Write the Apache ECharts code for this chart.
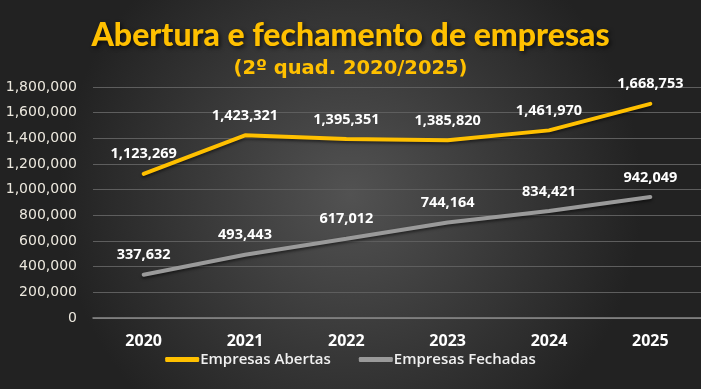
<!DOCTYPE html>
<html><head><meta charset="utf-8">
<script src="https://cdn.jsdelivr.net/npm/echarts@6/dist/echarts.min.js"></script>
<style>html,body{margin:0;padding:0;background:#2a2a2a}#c{width:701px;height:389px}</style>
</head><body><div id="c"></div>
<script>
const categories = ['2020','2021','2022','2023','2024','2025'];
const abertas = [1123269, 1423321, 1395351, 1385820, 1461970, 1668753];
const fechadas = [337632, 493443, 617012, 744164, 834421, 942049];
const seriesNames = ['Empresas Abertas','Empresas Fechadas'];
const titleText = 'Abertura e fechamento de empresas';
const subtitleText = '(2º quad. 2020/2025)';

const chart = echarts.init(document.getElementById('c'));
const fmt = v => v.toLocaleString('en-US');
const lbl = {show:true, position:'top', distance:11, color:'#ffffff', fontWeight:'bold', fontSize:14.5, fontFamily:'Open Sans',
  formatter: p => fmt(p.value)};
chart.setOption({
  backgroundColor: {type:'radial', x:0.5, y:0.5, r:0.75,
    colorStops:[{offset:0,color:'#525252'},{offset:1,color:'#222222'}]},
  title: [
    {text:titleText, left:'center', top:15, textStyle:{color:'#FFC000', fontSize:32, fontWeight:900, fontFamily:'Lato',
      textShadowColor:'rgba(0,0,0,0.6)', textShadowBlur:4, textShadowOffsetX:2, textShadowOffsetY:2}},
    {text:subtitleText, left:'center', top:54, textStyle:{color:'#FFC000', fontSize:19.5, fontWeight:'bold', fontFamily:'DejaVu Sans'}}
  ],
  legend: {data:seriesNames, bottom:17, left:'center', itemWidth:34, itemHeight:5, itemGap:28,
    icon:'roundRect',
    textStyle:{color:'#f0f0f0', fontSize:15, fontWeight:600, fontFamily:'Open Sans', padding:[0,0,0,-4]}},
  grid: {left:93, right:0, top:87, bottom:71},
  xAxis: {type:'category', data:categories, boundaryGap:true,
    axisLine:{lineStyle:{color:'#8a8a8a', width:1.5}}, axisTick:{show:false},
    axisLabel:{color:'#ffffff', fontWeight:'bold', fontSize:16, fontFamily:'Open Sans', margin:15}},
  yAxis: {type:'value', min:0, max:1800000, interval:200000,
    axisLine:{show:false}, axisTick:{show:false},
    splitLine:{lineStyle:{color:'#5e5e5e', width:1}},
    axisLabel:{color:'#ece8de', fontSize:14, fontFamily:'DejaVu Sans', margin:16, formatter: v => fmt(v)}},
  series: [
    {name:seriesNames[0], type:'line', data:abertas, showSymbol:true, symbol:'circle', symbolSize:2,
      lineStyle:{color:'#FFC000', width:4, cap:'round', shadowColor:'rgba(0,0,0,0.5)', shadowBlur:3, shadowOffsetY:2},
      itemStyle:{color:'#FFC000'}, label:lbl},
    {name:seriesNames[1], type:'line', data:fechadas, showSymbol:true, symbol:'circle', symbolSize:2,
      lineStyle:{color:'#9a9a9a', width:4, cap:'round', shadowColor:'rgba(0,0,0,0.5)', shadowBlur:3, shadowOffsetY:2},
      itemStyle:{color:'#9a9a9a'}, label:lbl}
  ],
  animation:false
});
</script></body></html>
